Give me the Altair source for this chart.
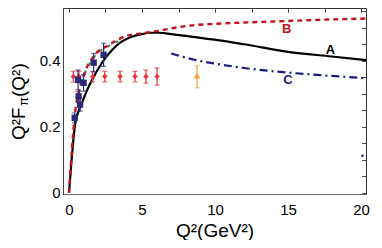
import altair as alt
import pandas as pd

# ---- theory curves ----
a_x = [0, 0.1, 0.2, 0.3, 0.43, 0.6, 0.89, 1.2, 1.58, 2.26, 2.95, 3.6, 4.3, 5.0, 5.6, 6.2, 7.0, 8.35, 10.3, 12.0, 15.0, 18.0, 20.34]
a_y = [0, 0.055, 0.11, 0.16, 0.212, 0.24, 0.272, 0.307, 0.342, 0.394, 0.433, 0.458, 0.473, 0.481, 0.485, 0.485, 0.481, 0.473, 0.462, 0.45, 0.427, 0.413, 0.402]

b_x = [0, 0.2, 0.41, 0.7, 1.1, 1.78, 2.74, 3.84, 5.0, 6.0, 7.0, 8.35, 10.0, 12.0, 14.0, 17.0, 20.34]
b_y = [0, 0.13, 0.24, 0.31, 0.367, 0.418, 0.448, 0.474, 0.483, 0.49, 0.498, 0.507, 0.512, 0.516, 0.519, 0.524, 0.528]

c_x = [7.0, 8.5, 10.2, 12.0, 15.0, 18.0, 20.34]
c_y = [0.422, 0.404, 0.39, 0.378, 0.364, 0.354, 0.347]

g_x = [0.75, 1.1, 1.78, 2.74, 3.4]
g_y = [0.322, 0.364, 0.415, 0.445, 0.46]

# ---- data points ----
blue_x = [0.39, 0.66, 0.76, 0.62, 1.0, 1.69, 2.37]
blue_y = [0.227, 0.292, 0.267, 0.342, 0.333, 0.394, 0.418]
blue_e = [0.015, 0.015, 0.02, 0.03, 0.025, 0.028, 0.035]

red_x = [0.3, 0.68, 1.62, 2.45, 3.5, 4.52, 5.27, 6.03]
red_y = [0.352, 0.352, 0.352, 0.352, 0.352, 0.352, 0.352, 0.352]
red_e = [0.016, 0.016, 0.016, 0.016, 0.016, 0.016, 0.02, 0.026]

orange_x = [8.77]
orange_y = [0.355]
orange_lo = [0.318]
orange_hi = [0.385]

stray_x = [20.1]
stray_y = [0.112]

lab_txt = ["A", "B", "C"]
lab_x = [17.9, 14.9, 15.0]
lab_y = [0.433, 0.497, 0.342]
lab_col = ["#000000", "#c0141e", "#1c1c80"]

x_ticks = [0, 2.5, 5, 7.5, 10, 12.5, 15, 17.5, 20]
x_labels = [0, 5, 10, 15, 20]
y_ticks = [0, 0.05, 0.1, 0.15, 0.2, 0.25, 0.3, 0.35, 0.4, 0.45, 0.5, 0.55]
y_labels = [0, 0.2, 0.4]

FONT = "Liberation Sans"
XD = [-0.41, 20.34]
YD = [-0.004, 0.56]

dfA = pd.DataFrame({"x": a_x, "y": a_y})
dfB = pd.DataFrame({"x": b_x, "y": b_y})
dfC = pd.DataFrame({"x": c_x, "y": c_y})
dfG = pd.DataFrame({"x": g_x, "y": g_y})
dfBlue = pd.DataFrame({"x": blue_x, "y": blue_y,
                       "lo": [v - e for v, e in zip(blue_y, blue_e)],
                       "hi": [v + e for v, e in zip(blue_y, blue_e)]})
dfRed = pd.DataFrame({"x": red_x, "y": red_y,
                      "lo": [v - e for v, e in zip(red_y, red_e)],
                      "hi": [v + e for v, e in zip(red_y, red_e)]})
dfOr = pd.DataFrame({"x": orange_x, "y": orange_y, "lo": orange_lo, "hi": orange_hi})
dfS = pd.DataFrame({"x": stray_x, "y": stray_y})
dfL = pd.DataFrame({"t": lab_txt, "x": lab_x, "y": lab_y, "c": lab_col})

xs = alt.Scale(domain=XD, nice=False, zero=False)
ys = alt.Scale(domain=YD, nice=False, zero=False)


def X(field="x", axis=None):
    return alt.X(f"{field}:Q", scale=xs, axis=axis)


def Y(field="y", axis=None):
    return alt.Y(f"{field}:Q", scale=ys, axis=axis)


# Axis with labels (bottom/left)
ax_x_lab = alt.Axis(values=x_labels, ticks=False, grid=False, domain=True, domainColor="#666666",
                    labelFont=FONT, labelFontSize=15, labelColor="#000", labelPadding=8,
                    title="Q²(GeV²)", titleFont=FONT, titleFontSize=19, titleFontWeight="normal",
                    titleColor="#000", titlePadding=4)
ax_y_lab = alt.Axis(values=y_labels, ticks=False, grid=False, domain=True, domainColor="#444444",
                    labelFont=FONT, labelFontSize=15, labelColor="#000", labelPadding=3,
                    format="~g", title=None)
# tick-only axes pointing inward
ax_x_tb = alt.Axis(values=x_ticks, labels=False, domain=False, grid=False, tickSize=4,
                   tickColor="#444444", offset=-4, title=None)
ax_y_tl = alt.Axis(values=y_ticks, labels=False, domain=False, grid=False, tickSize=4,
                   tickColor="#444444", offset=-4, title=None)
ax_x_tt = alt.Axis(values=x_ticks, labels=False, domain=False, grid=False, tickSize=4,
                   tickColor="#444444", offset=-4, title=None, orient="top")
ax_y_tr = alt.Axis(values=y_ticks, labels=False, domain=False, grid=False, tickSize=4,
                   tickColor="#444444", offset=-4, title=None, orient="right")

lineA = alt.Chart(dfA).mark_line(color="#000000", strokeWidth=2.2, interpolate="monotone").encode(
    x=X(axis=ax_x_lab), y=Y(axis=ax_y_lab))
tick1 = alt.Chart(dfA).mark_point(opacity=0).encode(x=X(axis=ax_x_tb), y=Y(axis=ax_y_tl))
tick2 = alt.Chart(dfA).mark_point(opacity=0).encode(x=X(axis=ax_x_tt), y=Y(axis=ax_y_tr))

lineB = alt.Chart(dfB).mark_line(color="#c0141e", strokeWidth=2.4, strokeDash=[5, 4],
                                 interpolate="monotone").encode(x=X(), y=Y())
lineG = alt.Chart(dfG).mark_line(color="#2a9a2a", strokeWidth=2, strokeDash=[3, 6], strokeDashOffset=-5,
                                 interpolate="monotone").encode(x=X(), y=Y())
lineC = alt.Chart(dfC).mark_line(color="#1c1c80", strokeWidth=2.2, strokeDash=[8, 4, 2, 4],
                                 interpolate="monotone").encode(x=X(), y=Y())

red_bar = alt.Chart(dfRed).mark_rule(color="#e8313a", strokeWidth=1.2).encode(x=X(), y=Y("lo"), y2="hi")
red_cap1 = alt.Chart(dfRed).mark_tick(color="#e8313a", orient="horizontal", size=5, thickness=1.2).encode(x=X(), y=Y("lo"))
red_cap2 = alt.Chart(dfRed).mark_tick(color="#e8313a", orient="horizontal", size=5, thickness=1.2).encode(x=X(), y=Y("hi"))
red_pt = alt.Chart(dfRed).mark_point(shape="diamond", filled=True, color="#e8313a", size=30, opacity=1).encode(x=X(), y=Y())

blue_bar = alt.Chart(dfBlue).mark_rule(color="#2a2a78", strokeWidth=1.2).encode(x=X(), y=Y("lo"), y2="hi")
blue_cap1 = alt.Chart(dfBlue).mark_tick(color="#2a2a78", orient="horizontal", size=5, thickness=1.2).encode(x=X(), y=Y("lo"))
blue_cap2 = alt.Chart(dfBlue).mark_tick(color="#2a2a78", orient="horizontal", size=5, thickness=1.2).encode(x=X(), y=Y("hi"))
blue_pt = alt.Chart(dfBlue).mark_point(shape="square", filled=True, color="#2a2a78", size=40, opacity=1).encode(x=X(), y=Y())

or_bar = alt.Chart(dfOr).mark_rule(color="#f5a040", strokeWidth=1.2).encode(x=X(), y=Y("lo"), y2="hi")
or_cap1 = alt.Chart(dfOr).mark_tick(color="#f5a040", orient="horizontal", size=5, thickness=1.2).encode(x=X(), y=Y("lo"))
or_cap2 = alt.Chart(dfOr).mark_tick(color="#f5a040", orient="horizontal", size=5, thickness=1.2).encode(x=X(), y=Y("hi"))
or_pt = alt.Chart(dfOr).mark_point(shape="triangle-up", filled=True, color="#f5a040", size=45, opacity=1).encode(x=X(), y=Y())

stray = alt.Chart(dfS).mark_point(shape="square", filled=True, color="#1c1c80", size=5, opacity=1).encode(x=X(), y=Y())

labels = alt.Chart(dfL).mark_text(font=FONT, fontSize=13, fontWeight="bold").encode(
    x=X(), y=Y(), text="t:N", color=alt.Color("c:N", scale=None))

# y-axis title pieces: Q²F_π(Q²)
yt1 = alt.Chart(dfA.head(1)).mark_text(text="Q²F", font=FONT, fontSize=19, angle=270, align="left",
                                       baseline="middle", color="#000").encode(x=alt.value(-44), y=alt.value(132))
yt2 = alt.Chart(dfA.head(1)).mark_text(text="π", font=FONT, fontSize=13, angle=270, align="left",
                                       baseline="middle", color="#000").encode(x=alt.value(-39), y=alt.value(98))
yt3 = alt.Chart(dfA.head(1)).mark_text(text="(Q²)", font=FONT, fontSize=19, angle=270, align="left",
                                       baseline="middle", color="#000").encode(x=alt.value(-44), y=alt.value(89))

chart = alt.layer(
    lineA, tick1, tick2, lineG, lineB, lineC,
    red_bar, red_cap1, red_cap2, red_pt,
    blue_bar, blue_cap1, blue_cap2, blue_pt,
    or_bar, or_cap1, or_cap2, or_pt,
    stray, labels, yt1, yt2, yt3,
).resolve_axis(x="independent", y="independent").properties(
    width=303, height=186,
    padding={"left": 55, "top": 0, "right": 8, "bottom": 46},
    autosize=alt.AutoSizeParams(type="none"),
).configure_view(stroke="#333333", strokeWidth=1)

chart.save("out.html", embed_options={"renderer": "svg", "actions": False})
